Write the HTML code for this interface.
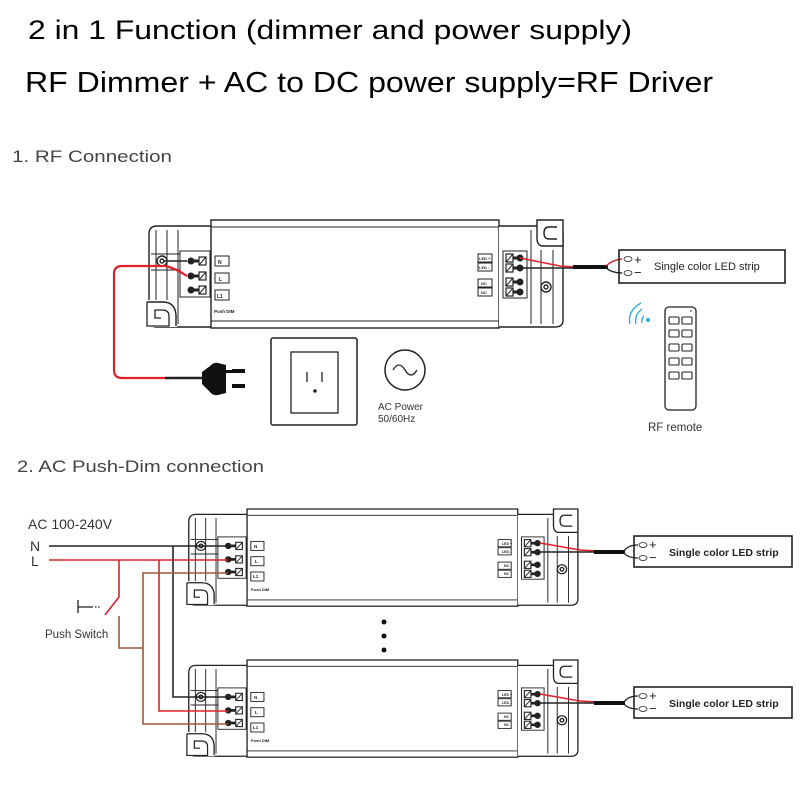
<!DOCTYPE html>
<html><head><meta charset="utf-8"><style>
html,body{margin:0;padding:0;background:#fff;}
svg{display:block;}
</style></head><body>
<svg width="800" height="800" viewBox="0 0 800 800" xmlns="http://www.w3.org/2000/svg" font-family="Liberation Sans, sans-serif">
<rect width="800" height="800" fill="#fff"/>
<text x="28" y="39" font-size="27" fill="#000" textLength="604" lengthAdjust="spacingAndGlyphs">2 in 1 Function (dimmer and power supply)</text>
<text x="25" y="92" font-size="29" fill="#000" textLength="688" lengthAdjust="spacingAndGlyphs">RF Dimmer + AC to DC power supply=RF Driver</text>
<text x="12" y="162" font-size="17" fill="#444" textLength="160" lengthAdjust="spacingAndGlyphs">1. RF Connection</text>
<text x="17" y="472" font-size="17" fill="#444" textLength="247" lengthAdjust="spacingAndGlyphs">2. AC Push-Dim connection</text>

<defs>
<g id="drv" fill="none" stroke="#222" stroke-width="1.4">
  <!-- left bracket -->
  <path d="M66,6 L12,6 Q4,6 4,14 L4,100 Q4,107 12,107 L66,107" fill="#fff"/>
  <line x1="11" y1="10" x2="11" y2="80" stroke-width="1"/>
  <line x1="22" y1="10" x2="22" y2="104" stroke-width="1"/>
  <line x1="33" y1="10" x2="33" y2="104" stroke-width="1"/>
  <line x1="6" y1="34" x2="35" y2="34" stroke-width="1"/>
  <line x1="6" y1="50" x2="35" y2="50" stroke-width="1"/>
  <path d="M0,80 L20,80 Q30,80 32,90 L32,107 L0,107 Z" fill="#fff" stroke="none"/>
  <path d="M2,82 L18,82 Q30,82 31,95 L31,106" />
  <path d="M2,82 L2,106 L24,106 L24,96 Q24,90 17,90 L10,90 L10,98 L16,98" stroke-width="1.3"/>
  <circle cx="17" cy="41" r="5"/><circle cx="17" cy="41" r="2"/>
  <!-- main body -->
  <rect x="66" y="0" width="288" height="108" fill="#fff"/>
  <line x1="66" y1="7" x2="354" y2="7" stroke-width="1"/>
  <line x1="66" y1="101" x2="354" y2="101" stroke-width="1"/>
  <!-- left terminal -->
  <rect x="35" y="31" width="30" height="46" fill="#fff" stroke-width="1"/>
  <g fill="#222" stroke="none">
    <circle cx="46" cy="41" r="3.5"/><rect x="46" y="39.5" width="8" height="3"/>
    <circle cx="46" cy="56" r="3.5"/><rect x="46" y="54.5" width="8" height="3"/>
    <circle cx="46" cy="70" r="3.5"/><rect x="46" y="68.5" width="8" height="3"/>
  </g>
  <rect x="54" y="37" width="7" height="8" stroke-width="1.2"/><line x1="54" y1="45" x2="61" y2="37" stroke-width="1"/>
  <rect x="54" y="52" width="7" height="8" stroke-width="1.2"/><line x1="54" y1="60" x2="61" y2="52" stroke-width="1"/>
  <rect x="54" y="66" width="7" height="8" stroke-width="1.2"/><line x1="54" y1="74" x2="61" y2="66" stroke-width="1"/>
  <rect x="70" y="36" width="14" height="10" stroke-width="1"/>
  <rect x="70" y="53" width="14" height="10" stroke-width="1"/>
  <rect x="70" y="70" width="14" height="10" stroke-width="1"/>
  <!-- right bracket -->
  <path d="M354,6 L410,6 Q418,6 418,14 L418,100 Q418,107 410,107 L354,107" fill="#fff"/>
  <line x1="386" y1="10" x2="386" y2="104" stroke-width="1"/>
  <line x1="396" y1="30" x2="396" y2="104" stroke-width="1"/>
  <line x1="408" y1="30" x2="408" y2="104" stroke-width="1"/>
  <path d="M392,0 L418,0 L418,26 L398,26 Q392,26 392,18 Z" fill="#fff"/>
  <path d="M412,7 L404,7 Q399,7 399,13 Q399,19 404,19 L412,19" />
  <circle cx="401" cy="67" r="5"/><circle cx="401" cy="67" r="2"/>
  <!-- right terminal -->
  <rect x="358" y="31" width="24" height="47" fill="#fff" stroke-width="1"/>
  <rect x="361" y="34" width="7" height="8" stroke-width="1.2"/><line x1="361" y1="42" x2="368" y2="34" stroke-width="1"/>
  <rect x="361" y="44" width="7" height="8" stroke-width="1.2"/><line x1="361" y1="52" x2="368" y2="44" stroke-width="1"/>
  <rect x="361" y="58" width="7" height="8" stroke-width="1.2"/><line x1="361" y1="66" x2="368" y2="58" stroke-width="1"/>
  <rect x="361" y="68" width="7" height="8" stroke-width="1.2"/><line x1="361" y1="76" x2="368" y2="68" stroke-width="1"/>
  <g fill="#222" stroke="none">
    <rect x="368" y="36.5" width="6" height="3"/><circle cx="375" cy="38" r="3.5"/>
    <rect x="368" y="46.5" width="6" height="3"/><circle cx="375" cy="48" r="3.5"/>
    <rect x="368" y="60.5" width="6" height="3"/><circle cx="375" cy="62" r="3.5"/>
    <rect x="368" y="70.5" width="6" height="3"/><circle cx="375" cy="72" r="3.5"/>
  </g>
  <rect x="333" y="34" width="14" height="8" stroke-width="1"/>
  <rect x="333" y="43" width="14" height="8" stroke-width="1"/>
  <rect x="333" y="59" width="14" height="8" stroke-width="1"/>
  <rect x="333" y="68" width="14" height="8" stroke-width="1"/>
</g>
</defs>

<!-- Driver 1 -->
<use href="#drv" transform="translate(145,220)"/>
<g font-size="5" fill="#222" font-weight="bold">
  <text x="218" y="264">N</text><text x="219" y="281">L</text><text x="217" y="298">L1</text>
  <text x="214" y="313" font-size="4.5">Push DIM</text>
  <text x="479" y="260" font-size="4">LED +</text><text x="479" y="269" font-size="4">LED -</text>
  <text x="481" y="285" font-size="4">NC</text><text x="481" y="294" font-size="4">NC</text>
</g>

<!-- Driver 1 wires -->
<path d="M163,261 L187,261" stroke="#222" stroke-width="1.6" fill="none"/>
<path d="M187,276 Q175,268 165,266 L122,266 Q114,266 114,274 L114,370 Q114,378 122,378 L165,378" stroke="#e0202a" stroke-width="2.2" fill="none"/>
<path d="M165,378 L205,378" stroke="#222" stroke-width="2.6" fill="none"/>
<!-- plug -->
<path d="M202,372 L210,366 Q214,362 218,363 L226,365 L226,393 L218,395 Q213,396 210,392 L202,384 Z" fill="#111"/>
<rect x="226" y="370" width="6" height="3" fill="#111"/>
<rect x="232" y="369" width="13" height="4" fill="#111"/>
<rect x="232" y="384" width="13" height="4" fill="#111"/>
<!-- led output wires -->
<path d="M520,258 L560,266 L575,267" stroke="#e0202a" stroke-width="1.6" fill="none"/>
<path d="M520,268 L575,268" stroke="#222" stroke-width="1.6" fill="none"/>
<path d="M573,267 L608,267" stroke="#111" stroke-width="4" fill="none"/>
<path d="M606,266 Q612,260 622,259" stroke="#e0202a" stroke-width="1.4" fill="none"/>
<path d="M606,268 Q612,273 622,273" stroke="#222" stroke-width="1.4" fill="none"/>

<!-- LED strip boxes -->
<g fill="none" stroke="#222">
  <rect x="619" y="250" width="166" height="33" stroke-width="1.6"/>
  <ellipse cx="628" cy="259" rx="4" ry="2.5" stroke-width="0.8"/><ellipse cx="628" cy="273" rx="4" ry="2.5" stroke-width="0.8"/>
  <rect x="634" y="536" width="158" height="31" stroke-width="1.6"/>
  <ellipse cx="643" cy="545" rx="4" ry="2.5" stroke-width="0.8"/><ellipse cx="643" cy="558" rx="4" ry="2.5" stroke-width="0.8"/>
  <rect x="634" y="687" width="158" height="31" stroke-width="1.6"/>
  <ellipse cx="643" cy="696" rx="4" ry="2.5" stroke-width="0.8"/><ellipse cx="643" cy="709" rx="4" ry="2.5" stroke-width="0.8"/>
</g>
<g fill="#222" font-size="11">
  <text x="634" y="264" font-size="13">+</text><text x="634" y="277" font-size="13">−</text>
  <text x="654" y="270">Single color LED strip</text>
  <text x="649" y="549" font-size="13">+</text><text x="649" y="562" font-size="13">−</text>
  <text x="669" y="556" font-size="10.5" font-weight="bold">Single color LED strip</text>
  <text x="649" y="700" font-size="13">+</text><text x="649" y="713" font-size="13">−</text>
  <text x="669" y="707" font-size="10.5" font-weight="bold">Single color LED strip</text>
</g>

<!-- outlet -->
<rect x="271" y="338" width="86" height="87" rx="2" fill="none" stroke="#222" stroke-width="1.5"/>
<rect x="291" y="352" width="47" height="61" fill="none" stroke="#222" stroke-width="1.3"/>
<line x1="307" y1="372" x2="307" y2="382" stroke="#222" stroke-width="1.3"/>
<line x1="322" y1="372" x2="322" y2="382" stroke="#222" stroke-width="1.3"/>
<circle cx="315" cy="391" r="1.8" fill="#222"/>
<circle cx="405" cy="370" r="20" fill="none" stroke="#222" stroke-width="1.5"/>
<path d="M393,370 Q399,360 405,370 Q411,380 417,370" fill="none" stroke="#222" stroke-width="1.3"/>
<text x="378" y="410" font-size="10" fill="#333">AC Power</text>
<text x="378" y="422" font-size="10" fill="#333">50/60Hz</text>

<!-- remote -->
<rect x="665" y="307" width="31" height="103" rx="4" fill="none" stroke="#222" stroke-width="1.3"/>
<g fill="none" stroke="#222" stroke-width="1.1">
  <rect x="669" y="317" width="10" height="7" rx="1"/><rect x="682" y="317" width="10" height="7" rx="1"/>
  <rect x="669" y="330" width="10" height="7" rx="1"/><rect x="682" y="330" width="10" height="7" rx="1"/>
  <rect x="669" y="344" width="10" height="7" rx="1"/><rect x="682" y="344" width="10" height="7" rx="1"/>
  <rect x="669" y="358" width="10" height="7" rx="1"/><rect x="682" y="358" width="10" height="7" rx="1"/>
  <rect x="669" y="372" width="10" height="7" rx="1"/><rect x="682" y="372" width="10" height="7" rx="1"/>
</g>
<circle cx="691" cy="311" r="0.8" fill="#222"/>
<g fill="none" stroke="#2aa8e0" stroke-width="1.3">
  <path d="M644,316 Q641,319 642,323"/>
  <path d="M642,309 Q634,315 636,324"/>
  <path d="M641,303 Q627,311 630,324"/>
</g>
<circle cx="648" cy="320" r="2" fill="#2aa8e0"/>
<text x="648" y="431" font-size="11.5" fill="#333">RF remote</text>

<!-- Section 2 -->
<text x="28" y="529" font-size="14" fill="#333">AC 100-240V</text>
<text x="30" y="551" font-size="14" fill="#333">N</text>
<text x="31" y="566" font-size="14" fill="#333">L</text>

<use href="#drv" transform="translate(185,509) scale(0.94,0.9)"/>
<use href="#drv" transform="translate(185,660) scale(0.94,0.9)"/>
<g font-size="4.5" fill="#222" font-weight="bold">
  <text x="254" y="548">N</text><text x="255" y="563">L</text><text x="253" y="578">L1</text>
  <text x="251" y="591" font-size="4">Push DIM</text>
  <text x="502" y="545" font-size="3.5">LED +</text><text x="502" y="553" font-size="3.5">LED -</text>
  <text x="504" y="567" font-size="3.5">NC</text><text x="504" y="575" font-size="3.5">NC</text>
  <text x="254" y="699">N</text><text x="255" y="714">L</text><text x="253" y="729">L1</text>
  <text x="251" y="742" font-size="4">Push DIM</text>
  <text x="502" y="696" font-size="3.5">LED +</text><text x="502" y="704" font-size="3.5">LED -</text>
  <text x="504" y="718" font-size="3.5">NC</text><text x="504" y="726" font-size="3.5">NC</text>
</g>

<!-- AC wiring -->
<g fill="none" stroke-width="1.6">
  <path d="M49,546 L228,546" stroke="#222"/>
  <path d="M173,546 L173,697 L228,697" stroke="#222"/>
  <path d="M49,560 L228,560" stroke="#e0202a"/>
  <path d="M159,560 L159,711 L228,711" stroke="#e0202a"/>
  <path d="M119,560 L119,597 L105,615" stroke="#e0202a"/>
  <path d="M228,573 L143,573 L143,724 L228,724" stroke="#a0583c"/>
  <path d="M119,616 L119,648 L143,648" stroke="#a0583c"/>
</g>
<path d="M78,600 L78,613 M78,607 L93,607" stroke="#222" stroke-width="1.3" fill="none"/>
<path d="M95,607 L101,607" stroke="#222" stroke-width="1.3" stroke-dasharray="1.5,1.5" fill="none"/>
<text x="45" y="638" font-size="11.5" fill="#333">Push Switch</text>

<!-- dots -->
<circle cx="384" cy="622" r="2.5" fill="#111"/>
<circle cx="384" cy="636" r="2.5" fill="#111"/>
<circle cx="384" cy="650" r="2.5" fill="#111"/>

<!-- section 2 led wires -->
<g fill="none">
  <path d="M540,543 L580,550 L597,551" stroke="#e0202a" stroke-width="1.5"/>
  <path d="M540,552 L597,552" stroke="#222" stroke-width="1.5"/>
  <path d="M594,552 L625,552" stroke="#111" stroke-width="4"/>
  <path d="M624,551 Q628,545 638,545 M624,553 Q628,558 638,558" stroke="#222" stroke-width="1.3"/>
  <path d="M540,694 L580,701 L597,702" stroke="#e0202a" stroke-width="1.5"/>
  <path d="M540,703 L597,703" stroke="#222" stroke-width="1.5"/>
  <path d="M594,703 L625,703" stroke="#111" stroke-width="4"/>
  <path d="M624,702 Q628,696 638,696 M624,704 Q628,709 638,709" stroke="#222" stroke-width="1.3"/>
</g>
</svg>
</body></html>
